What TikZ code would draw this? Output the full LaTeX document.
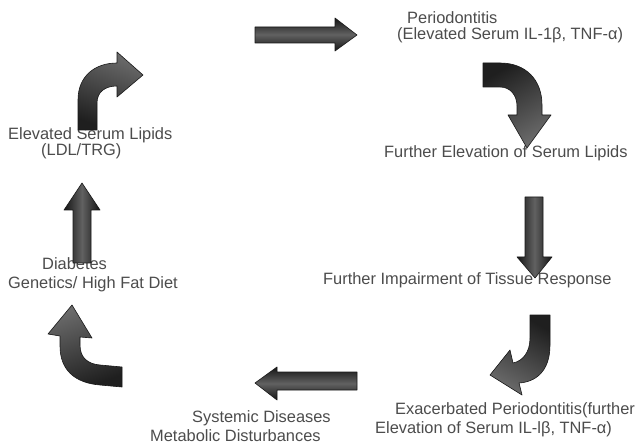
\documentclass[tikz,border=0pt]{standalone}
\usepackage{fontspec}
\setmainfont{Liberation Sans}
\begin{document}
\begin{tikzpicture}[x=1pt,y=-1pt,
  lbl/.style={anchor=base west,inner sep=0pt,text=black!70,font=\fontsize{16.4}{19}\selectfont},
  blk/.style={draw=black!90,line width=0.6pt,line join=round},
  hsh/.style={blk,top color=black!92,bottom color=black!92,middle color=black!62},
  vsh/.style={blk,left color=black!92,right color=black!92,middle color=black!62},
  csh/.style={blk,shading=axis,top color=black!88,bottom color=black!58,shading angle=0}]
\useasboundingbox[fill=white] (0,0) rectangle (637,446);

% texts
\node[lbl] (perio1) at (407,24) {Periodontitis};
\node[lbl] (perio2) at (397,40) {(Elevated Serum IL-1β, TNF-α)};
\node[lbl] (furtherlip) at (384,158) {Further Elevation of Serum Lipids};
\node[lbl] (impair) at (323,284) {Further Impairment of Tissue Response};
\node[lbl] (exac1) at (395,414) {Exacerbated Periodontitis(further};
\node[lbl] (exac2) at (375,433) {Elevation of Serum IL-lβ, TNF-α)};
\node[lbl] (sys1) at (192,422) {Systemic Diseases};
\node[lbl] (sys2) at (150,441) {Metabolic Disturbances};
\node[lbl] (diab1) at (42,270) {Diabetes};
\node[lbl] (diab2) at (8,288) {Genetics/ High Fat Diet};
\node[lbl] (lip1) at (8,140) {Elevated Serum Lipids};
\node[lbl] (lip2) at (41,156) {(LDL/TRG)};

% arrow 1: straight right (top)
\path[hsh] (255,27) -- (335,27) -- (335,18) -- (357,35) -- (335,51) -- (335,43) -- (255,43) -- cycle;

% arrow 3: curve right then down
\path[csh,shading angle=30] (483,63) -- (500,63) .. controls (526,63) and (542,80) .. (542,105) -- (542,115) -- (551,115)
  -- (527,148) -- (508,115) -- (517,115) -- (517,106) .. controls (517,95) and (510,87) .. (500,87) -- (483,87) -- cycle;

% arrow 4: straight down
\path[vsh] (525,197) -- (543,197) -- (543,257) -- (552,257) -- (535,278) -- (517,257) -- (525,257) -- cycle;

% arrow 5: J-shape, down then lower-left
\path[csh,shading angle=-30] (530,315) -- (550,315) -- (550,345) .. controls (550,372) and (535,382) .. (519,383)
  -- (522,395) -- (490,375) -- (510,350) -- (513,363) .. controls (523,361) and (530,352) .. (530,338) -- cycle;

% arrow 6: straight left (bottom)
\path[hsh] (357,372) -- (277,372) -- (277,367) -- (255,383) -- (277,400) -- (277,390) -- (357,390) -- cycle;

% arrow 7: left then up (bottom-left)
\path[csh,shading angle=200] (122,387) -- (100,385) .. controls (75,383) and (60,370) .. (60,346) -- (60,336) -- (48,334)
  -- (72,305) -- (92,338) -- (80,337) -- (80,345) .. controls (80,358) and (88,364) .. (100,365) -- (122,367) -- cycle;

% arrow 8: straight up (left)
\path[vsh] (73,263) -- (73,210) -- (64,210) -- (82,183) -- (100,210) -- (91,210) -- (91,263) -- cycle;

% arrow 2: up then right (top-left)
\path[csh,shading angle=160] (78,130) -- (78,100) .. controls (78,76) and (95,63) .. (117,63) -- (117,52) -- (143,75)
  -- (117,97) -- (117,86) .. controls (105,86) and (97,92) .. (97,103) -- (97,130) -- cycle;
\end{tikzpicture}
\end{document}
